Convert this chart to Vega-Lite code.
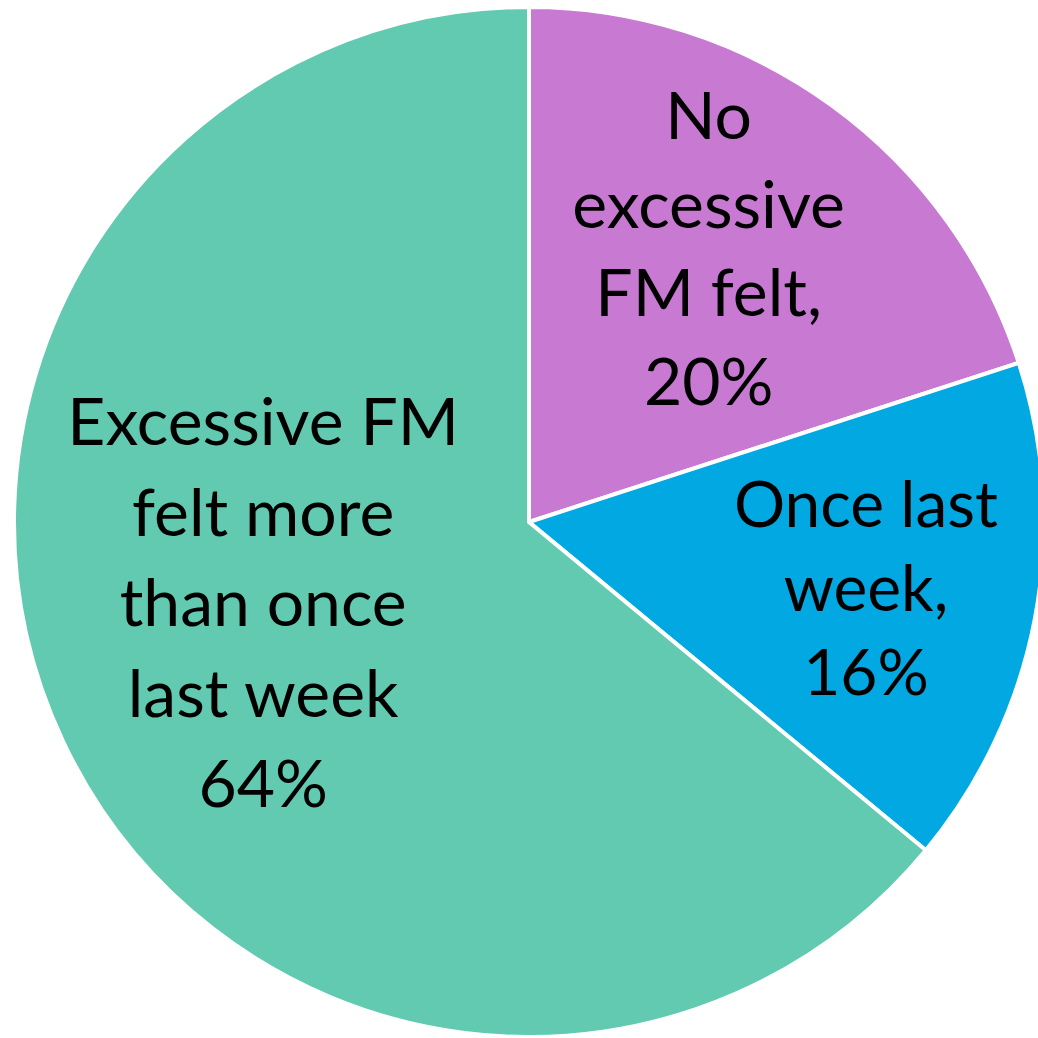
{
  "$schema": "https://vega.github.io/schema/vega-lite/v6.json",
  "autosize": {"type": "none"},
  "width": 1018,
  "height": 1032,
  "padding": {"left": 20, "top": 6, "right": 0, "bottom": 0},
  "background": "white",
  "config": {"view": {"stroke": null}},
  "data": {
    "values": [
      {"category": "No excessive FM felt", "rank": 1, "share": 20, "label": "No\nexcessive\nFM felt,\n20%"},
      {"category": "Once last week", "rank": 2, "share": 16, "label": "Once last\nweek,\n16%"},
      {"category": "Excessive FM felt more than once last week", "rank": 3, "share": 64, "label": "Excessive FM\nfelt more\nthan once\nlast week\n64%"}
    ]
  },
  "encoding": {
    "theta": {"field": "share", "type": "quantitative", "stack": true},
    "order": {"field": "rank", "type": "quantitative", "sort": "ascending"},
    "color": {
      "field": "category",
      "type": "nominal",
      "scale": {
        "domain": ["No excessive FM felt", "Once last week", "Excessive FM felt more than once last week"],
        "range": ["#C879D2", "#02A8E2", "#62CAB1"]
      },
      "legend": null
    }
  },
  "layer": [
    {
      "mark": {"type": "arc", "outerRadius": 515, "stroke": "white", "strokeWidth": 4}
    },
    {
      "mark": {"type": "text", "radius": 326, "dx": -12, "dy": -139, "font": "Lato", "fontSize": 66, "lineHeight": 88.5, "lineBreak": "\n", "baseline": "middle", "align": "center"},
      "encoding": {
        "text": {"condition": {"test": "datum.category === 'No excessive FM felt'", "field": "label"}, "value": ""},
        "color": {"value": "black"}
      }
    },
    {
      "mark": {"type": "text", "radius": 343, "dx": 0, "dy": -78, "font": "Lato", "fontSize": 64, "lineHeight": 84, "lineBreak": "\n", "baseline": "middle", "align": "center"},
      "encoding": {
        "text": {"condition": {"test": "datum.category === 'Once last week'", "field": "label"}, "value": ""},
        "color": {"value": "black"}
      }
    },
    {
      "mark": {"type": "text", "radius": 275, "dx": -17, "dy": -214, "font": "Lato", "fontSize": 66, "lineHeight": 90.5, "lineBreak": "\n", "baseline": "middle", "align": "center"},
      "encoding": {
        "text": {"condition": {"test": "datum.category === 'Excessive FM felt more than once last week'", "field": "label"}, "value": ""},
        "color": {"value": "black"}
      }
    }
  ]
}
